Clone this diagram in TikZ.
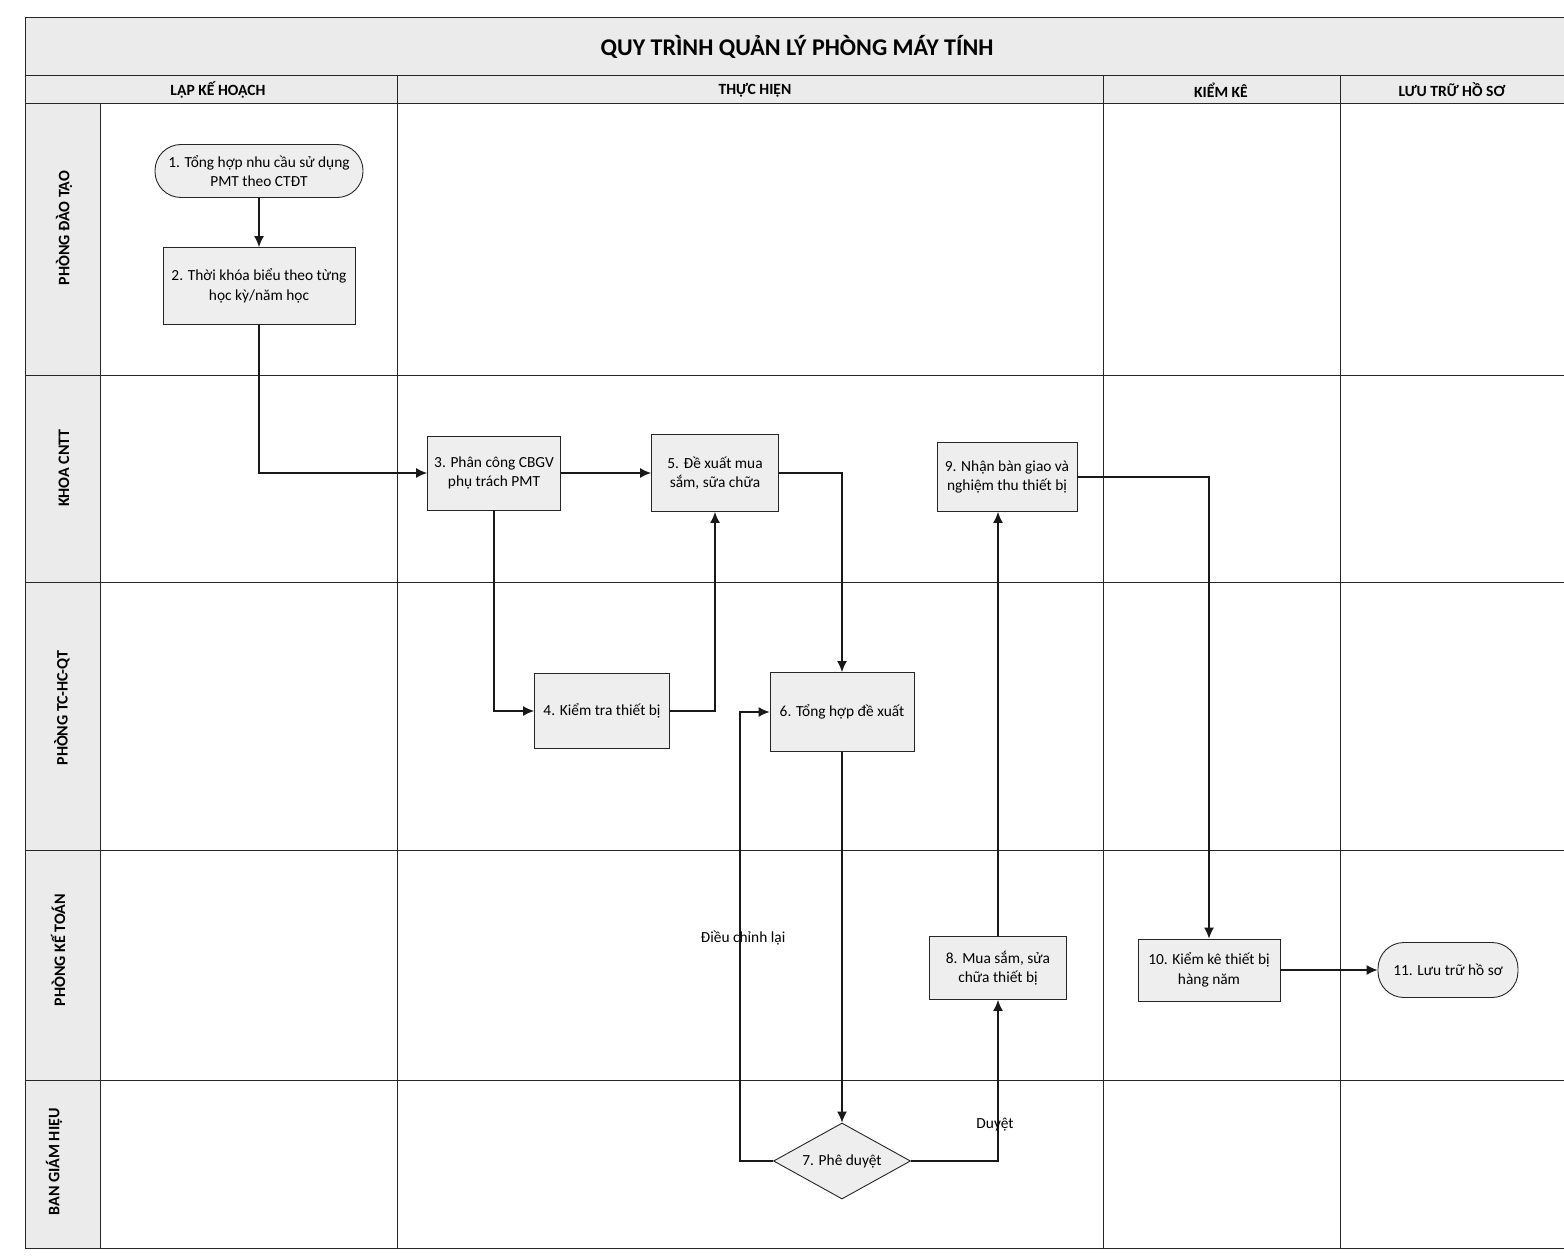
\documentclass[tikz,border=0pt]{standalone}
\usepackage{fontspec}
\setmainfont{Carlito}
\usetikzlibrary{shapes.geometric,arrows.meta}
\begin{document}
\begin{tikzpicture}[x=1pt,y=-1pt,
  box/.style={draw=black!85, line width=0.9pt, fill=gray!13, align=center,
    font=\fontsize{15.4}{19.5}\selectfont, inner sep=2pt},
  termbox/.style={box, rounded corners=26pt},
  decbox/.style={box, diamond, shape aspect=1.8, inner sep=0pt},
  conn/.style={line width=1.3pt, draw=black!90, -{Latex[length=11pt,width=10pt]}},
  lane/.style={line width=1pt, draw=black!85},
  hdr/.style={font=\fontsize{15.6}{18}\selectfont\bfseries},
  lanelbl/.style={font=\fontsize{16}{18}\selectfont\bfseries, rotate=90},
  lbl/.style={font=\fontsize{15.4}{18}\selectfont},
]
\useasboundingbox (0,0) rectangle (1564,1260);
\fill[white] (0,0) rectangle (1564,1260);

% bands
\fill[gray!16] (25,18) rectangle (1564,104);
\fill[gray!16] (25,104) rectangle (100,1248);

% frame and lane lines
\draw[lane] (1564,18) -- (25,18) -- (25,1248) -- (1564,1248);
\draw[lane] (25,76) -- (1564,76);
\draw[lane] (25,104) -- (1564,104);
\draw[lane] (100,104) -- (100,1248);
\draw[lane] (25,375) -- (1564,375);
\draw[lane] (25,582) -- (1564,582);
\draw[lane] (25,850) -- (1564,850);
\draw[lane] (25,1080) -- (1564,1080);
\draw[lane] (397,76) -- (397,1248);
\draw[lane] (1103,76) -- (1103,1248);
\draw[lane] (1340,76) -- (1340,1248);

% title and headers
\node[font=\fontsize{24}{27}\selectfont\bfseries] (title) at (797,47) {QUY TRÌNH QUẢN LÝ PHÒNG MÁY TÍNH};
\node[hdr] (h1) at (218,90) {LẬP KẾ HOẠCH};
\node[hdr] (h2) at (755,90) {THỰC HIỆN};
\node[hdr] (h3) at (1221,90) {KIỂM KÊ};
\node[hdr] (h4) at (1452,90) {LƯU TRỮ HỒ SƠ};

\node[lanelbl] (l1) at (64,228) {PHÒNG ĐÀO TẠO};
\node[lanelbl] (l2) at (64,468) {KHOA CNTT};
\node[lanelbl] (l3) at (62,708) {PHÒNG TC-HC-QT};
\node[lanelbl] (l4) at (58,950) {PHÒNG KẾ TOÁN};
\node[lanelbl] (l5) at (54,1162) {BAN GIÁM HIỆU};

% nodes
\node[termbox, minimum width=208pt, minimum height=53pt] (n1) at (259,171) {1. Tổng hợp nhu cầu sử dụng\\PMT theo CTĐT};
\node[box, minimum width=192pt, minimum height=77pt] (n2) at (259,286) {2. Thời khóa biểu theo từng\\học kỳ/năm học};
\node[box, minimum width=133pt, minimum height=74pt] (n3) at (494,473) {3. Phân công CBGV\\phụ trách PMT};
\node[box, minimum width=127pt, minimum height=77pt] (n5) at (715,473) {5. Đề xuất mua\\sắm, sữa chữa};
\node[box, minimum width=140pt, minimum height=69pt] (n9) at (1007,477) {9. Nhận bàn giao và\\nghiệm thu thiết bị};
\node[box, minimum width=135pt, minimum height=75pt] (n4) at (602,711) {4. Kiểm tra thiết bị};
\node[box, minimum width=144pt, minimum height=79pt] (n6) at (842,712) {6. Tổng hợp đề xuất};
\node[box, minimum width=137pt, minimum height=63pt] (n8) at (998,968) {8. Mua sắm, sửa\\chữa thiết bị};
\node[box, minimum width=142pt, minimum height=62pt] (n10) at (1209,970) {10. Kiểm kê thiết bị\\hàng năm};
\node[termbox, minimum width=140pt, minimum height=55pt] (n11) at (1448,970) {11. Lưu trữ hồ sơ};
\node[decbox, minimum width=137pt, minimum height=76pt] (n7) at (842,1161) {7. Phê duyệt};

% connectors
\draw[conn] (n1) -- (n2);
\draw[conn] (n2.south) |- (n3.west);
\draw[conn] (n3) -- (n5);
\draw[conn] (n3.south) |- (n4.west);
\draw[conn] (n4.east) -| (n5.south);
\draw[conn] (n5.east) -| (n6.north);
\draw[conn] (n6) -- (n7);
\coordinate (back) at (740,1161);
\draw[conn] (n7.west) -- (back) |- (n6.west);
\draw[conn] (n7.east) -| (n8.south);
\draw[conn] (n8.north) -- (n8.north |- n9.south);
\draw[conn] (n9.east) -| (n10.north);
\draw[conn] (n10) -- (n11);

\node[lbl] (e1) at (743,938) {Điều chỉnh lại};
\node[lbl] (e2) at (995,1125) {Duyệt};
\end{tikzpicture}
\end{document}
